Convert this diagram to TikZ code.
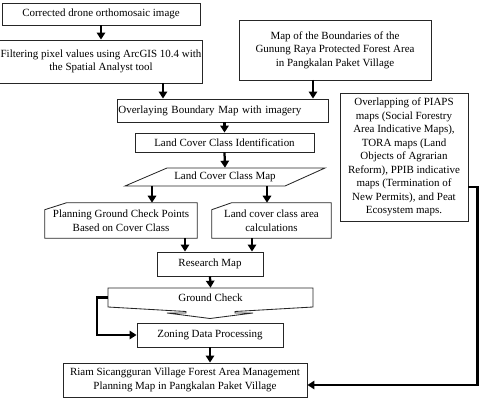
\documentclass[tikz,border=0pt]{standalone}
\usepackage{fontspec}
\setmainfont{Liberation Serif}
\usetikzlibrary{positioning, arrows.meta}

\begin{document}
\begin{tikzpicture}[x=0.025cm, y=-0.025cm,
  txt/.style={align=center, inner sep=1pt, font=\fontsize{7.8}{9.6}\selectfont},
  box/.style={txt, draw=black!85, line width=0.6pt},
  boxline/.style={draw=black!85, line width=0.6pt},
  flowarrow/.style={line width=1.6pt, -{Triangle[width=6pt,length=5pt]}}]
\useasboundingbox (0,0) rectangle (480,400);

\node[box, minimum width=4.95cm, minimum height=0.55cm] (corr) at (101,14) {Corrected drone orthomosaic image};
\node[box, minimum width=4.95cm, minimum height=1.075cm] (filt) at (101,61.5) {Filtering pixel values using ArcGIS 10.4 with\\the Spatial Analyst tool};
\node[box, minimum width=4.8cm, minimum height=1.5cm] (bmap) at (335,50) {Map of the Boundaries of the\\Gunung Raya Protected Forest Area\\in Pangkalan Paket Village};
\node[box, minimum height=0.575cm, text width=5.2cm, align=left] (ovl) at (222.5,110.5) {Overlaying Boundary Map with imagery};
\node[box, minimum width=4.475cm, minimum height=0.475cm] (ident) at (224.5,142.5) {Land Cover Class Identification};

% land cover class map
\node[txt, minimum width=5cm, minimum height=0.45cm] (lccm) at (225,177) {Land Cover Class Map};
\draw[boxline] (125,186) -- (167,168) -- (325,168) -- (285,186) -- cycle;

\node[txt, minimum width=3.8cm, minimum height=0.875cm] (plan) at (121,220.5) {Planning Ground Check Points\\Based on Cover Class};
\draw[boxline] (plan.south west) -- ([yshift=-0.175cm]plan.north west) -- ([xshift=0.55cm]plan.north west) -- (plan.north east) -- (plan.south east) -- cycle;
\node[txt, minimum width=2.975cm, minimum height=0.875cm] (area) at (271.5,220.5) {Land cover class area\\calculations};
\draw[boxline] (area.south west) -- ([yshift=-0.175cm]area.north west) -- ([xshift=0.5cm]area.north west) -- (area.north east) -- (area.south east) -- cycle;

\node[box, minimum width=2.65cm, minimum height=0.6cm] (res) at (210,264) {Research Map};

% ground check
\node[txt, minimum width=5.125cm, minimum height=0.475cm] (gc) at (210.5,297.5) {Ground Check};
\draw[boxline] (108,288) -- (313,288) -- (313,307) -- (235,311.5) -- (235,313) -- (253,313) -- (210,318.5)
  -- (167,313) -- (186,313) -- (186,311.5) -- (108,307) -- cycle;

\node[box, minimum width=3.65cm, minimum height=0.6cm] (zone) at (210,335) {Zoning Data Processing};
\node[box, minimum width=6.1cm, minimum height=0.85cm] (final) at (185,380) {Riam Sicangguran Village Forest Area Management\\Planning Map in Pangkalan Paket Village};
\node[box, minimum width=3.2cm, minimum height=3.2cm] (over) at (404,157) {Overlapping of PIAPS\\maps (Social Forestry\\Area Indicative Maps),\\TORA maps (Land\\Objects of Agrarian\\Reform), PPIB indicative\\maps (Termination of\\New Permits), and Peat\\Ecosystem maps.};

% arrows
\coordinate (f1) at (163,83);
\coordinate (m1) at (313,80);
\coordinate (c1) at (152,186);
\coordinate (c2) at (267,186);
\coordinate (c3) at (185,238);
\coordinate (c4) at (252,238);
\draw[flowarrow] (corr.south) -- (filt.north);
\draw[flowarrow] (f1) -- (f1 |- ovl.north);
\draw[flowarrow] (m1) -- (m1 |- ovl.north);
\draw[flowarrow] (ident.north |- ovl.south) -- (ident.north);
\draw[flowarrow] (ident.south) -- (lccm.north);
\draw[flowarrow] (c1) -- (c1 |- plan.north);
\draw[flowarrow] (c2) -- (c2 |- area.north);
\draw[flowarrow] (c3) -- (c3 |- res.north);
\draw[flowarrow] (c4) -- (c4 |- res.north);
\draw[flowarrow] (res.south) -- (gc.north);
\draw[flowarrow] (gc.west) -- ++(-11,0) |- (zone.west);
\draw[flowarrow] (zone.south) -- (zone.south |- final.north);
\draw[flowarrow] ([yshift=-0.75cm]over.east) -- ++(9,0) |- ([yshift=-0.125cm]final.east);
\end{tikzpicture}
\end{document}
